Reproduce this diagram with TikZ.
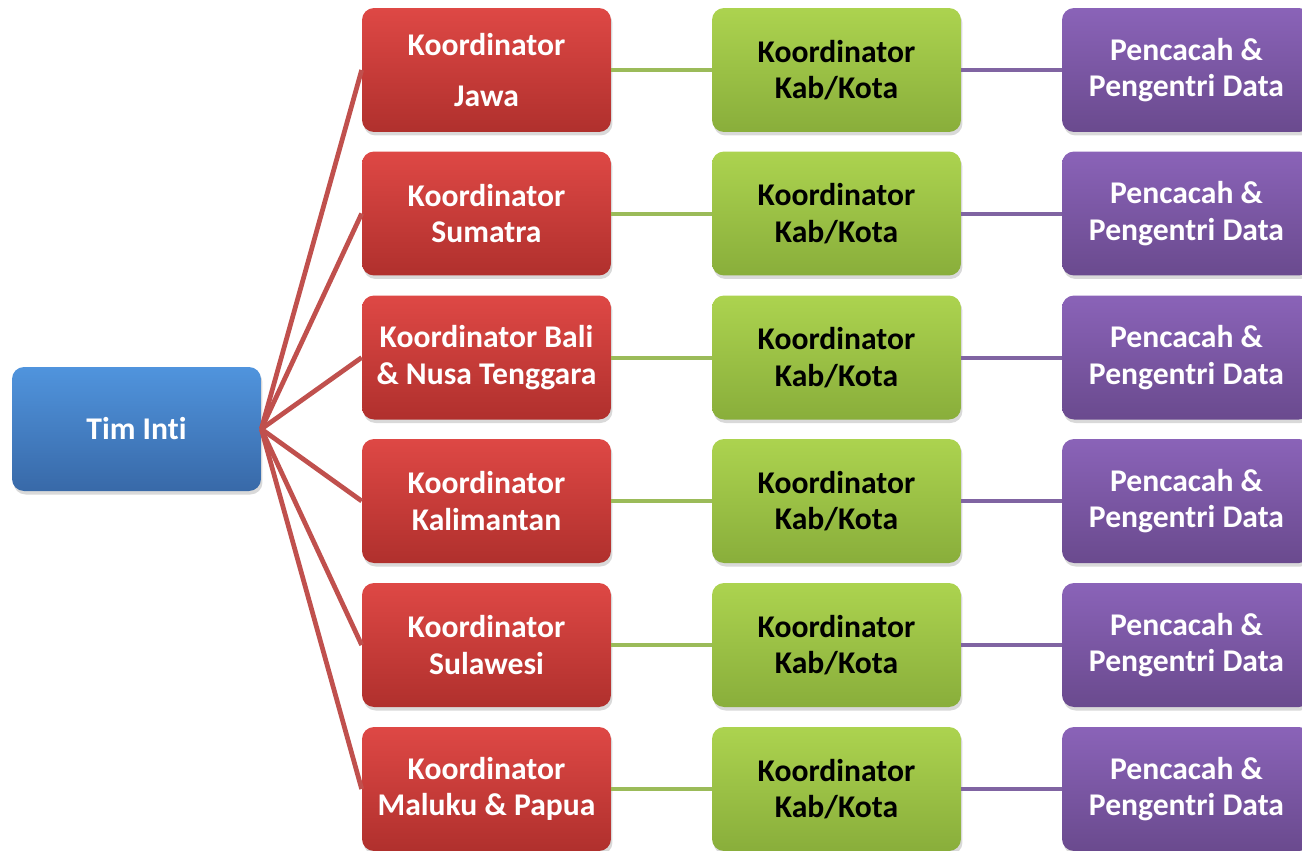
\documentclass[tikz,border=0pt]{standalone}
\usepackage{fontspec}
\setmainfont[Ligatures=NoCommon]{Carlito}
\usepackage{xcolor}
\usetikzlibrary{positioning,shadows}

\definecolor{intitop}{HTML}{5094DD}
\definecolor{intibot}{HTML}{3869A8}
\definecolor{kortop}{HTML}{DE4845}
\definecolor{korbot}{HTML}{B0302D}
\definecolor{kabtop}{HTML}{ACD34F}
\definecolor{kabbot}{HTML}{89AE3B}
\definecolor{cactop}{HTML}{8A63B8}
\definecolor{cacbot}{HTML}{6A4A8E}
\definecolor{korline}{HTML}{C0504D}
\definecolor{kabline}{HTML}{9BBB59}
\definecolor{cacline}{HTML}{8064A2}

\tikzset{
    box/.style={rounded corners=0.24cm, minimum width=4.98cm, minimum height=2.48cm,
        align=center, font=\fontsize{18}{20.8}\selectfont\bfseries,
        drop shadow={shadow xshift=0.03cm, shadow yshift=-0.07cm, opacity=0.3}},
    intibox/.style={box, top color=intitop, bottom color=intibot, text=white},
    korbox/.style={box, top color=kortop, bottom color=korbot, text=white},
    kabbox/.style={box, top color=kabtop, bottom color=kabbot, text=black},
    cacbox/.style={box, top color=cactop, bottom color=cacbot, text=white},
    korlink/.style={draw=korline, line width=0.095cm},
    kablink/.style={draw=kabline, line width=0.08cm},
    caclink/.style={draw=cacline, line width=0.08cm}
}

\begin{document}
\begin{tikzpicture}[x=0.02cm, y=-0.02cm]
    \clip (0,0) rectangle (1302,850);

    % root
    \node[intibox] (inti) at (136.5,429) {Tim Inti};

    % regional coordinators
    \node[korbox] (jawa) at (486.5,70) {Koordinator\\[0.28cm] Jawa};
    \node[korbox] (sumatra) at (486.5,213.5) {Koordinator\\ Sumatra};
    \node[korbox] (bali) at (486.5,357.5) {Koordinator Bali\\ \& Nusa Tenggara};
    \node[korbox] (kalimantan) at (486.5,501) {Koordinator\\ Kalimantan};
    \node[korbox] (sulawesi) at (486.5,645) {Koordinator\\ Sulawesi};
    \node[korbox] (maluku) at (486.5,789) {Koordinator\\ Maluku \& Papua};

    % district coordinators
    \node[kabbox] (kab1) at (836.5,70) {Koordinator\\ Kab/Kota};
    \node[kabbox] (kab2) at (836.5,213.5) {Koordinator\\ Kab/Kota};
    \node[kabbox] (kab3) at (836.5,357.5) {Koordinator\\ Kab/Kota};
    \node[kabbox] (kab4) at (836.5,501) {Koordinator\\ Kab/Kota};
    \node[kabbox] (kab5) at (836.5,645) {Koordinator\\ Kab/Kota};
    \node[kabbox] (kab6) at (836.5,789) {Koordinator\\ Kab/Kota};

    % enumerators
    \node[cacbox] (cac1) at (1186.5,70) {Pencacah \&\\ Pengentri Data};
    \node[cacbox] (cac2) at (1186.5,213.5) {Pencacah \&\\ Pengentri Data};
    \node[cacbox] (cac3) at (1186.5,357.5) {Pencacah \&\\ Pengentri Data};
    \node[cacbox] (cac4) at (1186.5,501) {Pencacah \&\\ Pengentri Data};
    \node[cacbox] (cac5) at (1186.5,645) {Pencacah \&\\ Pengentri Data};
    \node[cacbox] (cac6) at (1186.5,789) {Pencacah \&\\ Pengentri Data};

    % links
    \draw[korlink] (inti.east) -- (jawa.west);
    \draw[korlink] (inti.east) -- (sumatra.west);
    \draw[korlink] (inti.east) -- (bali.west);
    \draw[korlink] (inti.east) -- (kalimantan.west);
    \draw[korlink] (inti.east) -- (sulawesi.west);
    \draw[korlink] (inti.east) -- (maluku.west);

    \draw[kablink] (jawa.east) -- (kab1.west);
    \draw[kablink] (sumatra.east) -- (kab2.west);
    \draw[kablink] (bali.east) -- (kab3.west);
    \draw[kablink] (kalimantan.east) -- (kab4.west);
    \draw[kablink] (sulawesi.east) -- (kab5.west);
    \draw[kablink] (maluku.east) -- (kab6.west);

    \draw[caclink] (kab1.east) -- (cac1.west);
    \draw[caclink] (kab2.east) -- (cac2.west);
    \draw[caclink] (kab3.east) -- (cac3.west);
    \draw[caclink] (kab4.east) -- (cac4.west);
    \draw[caclink] (kab5.east) -- (cac5.west);
    \draw[caclink] (kab6.east) -- (cac6.west);
\end{tikzpicture}
\end{document}
